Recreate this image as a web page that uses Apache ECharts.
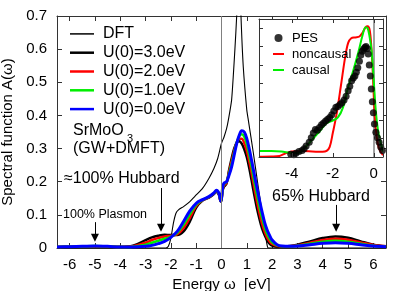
<!DOCTYPE html>
<html>
<head>
<meta charset="utf-8">
<script src="https://cdn.jsdelivr.net/npm/echarts@6/dist/echarts.min.js"></script>
<style>html,body{margin:0;padding:0;background:#fff;}#c{width:415px;height:291px;}</style>
</head>
<body>
<div id="c"></div>
<script>
// ---- main panel data ----
const energy = [-6.5,-6,-5.5,-5,-4.5,-4,-3.5,-3,-2.75,-2.5,-2.25,-2,-1.75,-1.5,-1.25,-1,-0.75,-0.5,-0.3,-0.2,-0.1,-0.03,0,0.05,0.1,0.2,0.3,0.4,0.5,0.6,0.7,0.8,0.9,1.0,1.1,1.2,1.3,1.4,1.5,1.6,1.7,1.8,1.9,2.0,2.2,2.4,2.7,3.0,3.5,4.0,4.5,5.0,5.5,6.0,6.5];
const u3 = [0.003,0.004,0.005,0.005,0.004,0.004,0.007,0.024,0.032,0.037,0.040,0.039,0.039,0.050,0.080,0.122,0.143,0.152,0.163,0.170,0.160,0.140,0.145,0.175,0.185,0.195,0.235,0.270,0.300,0.318,0.322,0.315,0.298,0.274,0.240,0.200,0.158,0.120,0.088,0.060,0.040,0.024,0.013,0.007,0.004,0.004,0.006,0.010,0.020,0.030,0.035,0.031,0.020,0.010,0.005];
const u2 = [0.003,0.004,0.005,0.005,0.004,0.003,0.005,0.016,0.024,0.030,0.035,0.037,0.042,0.060,0.091,0.127,0.144,0.153,0.164,0.172,0.162,0.141,0.147,0.178,0.189,0.197,0.230,0.262,0.293,0.318,0.330,0.330,0.316,0.293,0.260,0.222,0.180,0.140,0.105,0.074,0.050,0.032,0.020,0.012,0.006,0.005,0.005,0.008,0.016,0.024,0.028,0.025,0.017,0.009,0.005];
const u1 = [0.003,0.004,0.005,0.006,0.005,0.003,0.004,0.010,0.016,0.022,0.028,0.034,0.046,0.070,0.102,0.131,0.145,0.154,0.165,0.173,0.164,0.142,0.148,0.182,0.193,0.199,0.225,0.254,0.287,0.318,0.337,0.343,0.336,0.313,0.280,0.242,0.200,0.161,0.125,0.092,0.064,0.043,0.028,0.017,0.008,0.005,0.005,0.007,0.013,0.019,0.022,0.019,0.013,0.007,0.004];
const u0 = [0.003,0.004,0.005,0.006,0.005,0.003,0.003,0.005,0.008,0.013,0.020,0.032,0.050,0.080,0.112,0.135,0.146,0.155,0.166,0.174,0.165,0.142,0.150,0.185,0.196,0.200,0.220,0.245,0.280,0.315,0.340,0.354,0.350,0.330,0.298,0.260,0.220,0.182,0.145,0.110,0.078,0.055,0.038,0.024,0.010,0.006,0.005,0.006,0.010,0.014,0.016,0.014,0.010,0.006,0.004];
const dftEnergy = [-6.5,-2.2,-2.1,-2.0,-1.9,-1.8,-1.7,-1.5,-1.25,-1.0,-0.75,-0.5,-0.3,-0.15,0,0.1,0.2,0.27,0.4,0.53,0.6,0.69,0.77,0.86,1.0,1.06,1.26,1.45,1.65,1.79,1.85,6.5];
const dftValues = [0,0,0.005,0.03,0.075,0.105,0.115,0.125,0.14,0.16,0.18,0.21,0.24,0.27,0.316,0.335,0.36,0.386,0.447,0.6,0.7,0.9,0.7,0.547,0.416,0.386,0.286,0.185,0.084,0.014,0,0];
const mainXTicks = [-6,-5,-4,-3,-2,-1,0,1,2,3,4,5,6];

// ---- inset data ----
const pesEnergy = [-4.05,-3.9,-3.8,-3.65,-3.5,-3.4,-3.3,-3.15,-3.05,-2.95,-2.85,-2.75,-2.65,-2.55,-2.45,-2.35,-2.25,-2.15,-2.05,-1.95,-1.85,-1.75,-1.65,-1.55,-1.45,-1.35,-1.25,-1.17,-1.08,-1.0,-0.92,-0.85,-0.78,-0.7,-0.63,-0.56,-0.5,-0.44,-0.38,-0.32,-0.27,-0.22,-0.17,-0.12,-0.07,-0.02,0.03,0.1,0.18,0.26,0.34,0.42];
const pesValues = [0.15,0.12,0.2,0.3,0.35,0.45,0.6,0.8,1.05,1.3,1.5,1.45,1.6,1.75,1.85,1.95,2.05,2.15,2.3,2.5,2.7,2.75,2.85,2.95,3.1,3.3,3.6,3.85,4.15,4.3,4.4,4.6,4.85,5.2,5.55,5.75,5.85,5.95,6.0,5.9,5.6,5.0,4.4,3.7,3.0,2.4,1.8,1.35,1.05,0.8,0.55,0.35];
const noncausalEnergy = [-5.6,-5.0,-4.6,-4.3,-4.0,-3.5,-3.0,-2.5,-2.3,-2.15,-2.0,-1.82,-1.6,-1.4,-1.25,-1.1,-0.9,-0.7,-0.55,-0.4,-0.3,-0.2,-0.12,-0.05,0.03,0.1,0.2,0.3,0.45];
const noncausalValues = [0.02,0.03,0.06,0.2,0.3,0.32,0.3,0.28,0.33,0.55,1.3,2.3,3.9,5.4,6.2,6.45,6.5,6.55,6.75,7.05,7.1,6.9,6.0,4.6,2.6,1.5,0.7,0.35,0.1];
const causalEnergy = [-5.6,-5.0,-4.5,-4.0,-3.7,-3.37,-2.88,-2.6,-2.3,-2.0,-1.75,-1.5,-1.25,-1.0,-0.75,-0.55,-0.4,-0.3,-0.2,-0.1,0,0.1,0.2,0.3,0.45];
const causalValues = [0.33,0.33,0.3,0.22,0.22,0.5,1.1,1.45,1.85,1.98,2.15,2.7,3.8,4.7,5.7,6.6,7.05,7.0,6.5,5.7,4.1,2.5,1.5,0.95,0.3];
const insetXTicks = [-4,-2,0];

const FONT = 'Liberation Sans';
const zip = (xs, ys) => xs.map((x, i) => [x, ys[i]]);
const axisCol = '#333';

function xAx(grid, pos, min, max, ticks, showLabel, z) {
  return {
    type: 'value', gridIndex: grid, position: pos, min: min, max: max, z: z,
    axisLine: {show: true, onZero: false, lineStyle: {color: axisCol, width: 1}},
    axisTick: {show: true, inside: true, length: 5, customValues: ticks, lineStyle: {color: axisCol}},
    axisLabel: {show: showLabel, customValues: ticks, fontSize: 15, fontFamily: FONT, color: '#000', margin: 9},
    splitLine: {show: false}
  };
}
function yAx(grid, pos, min, max, interval, showLabel, z) {
  return {
    type: 'value', gridIndex: grid, position: pos, min: min, max: max, interval: interval, z: z,
    axisLine: {show: true, onZero: false, lineStyle: {color: axisCol, width: 1}},
    axisTick: {show: true, inside: true, length: 5, lineStyle: {color: axisCol}},
    axisLabel: {show: showLabel, fontSize: 15, fontFamily: FONT, color: '#000', margin: 10},
    splitLine: {show: false}
  };
}

const xAxes = [
  xAx(0, 'bottom', -6.5, 6.5, mainXTicks, true, 0),
  xAx(0, 'top', -6.5, 6.5, mainXTicks, false, 0),
  xAx(1, 'bottom', -5.6, 0.45, insetXTicks, true, 7),
  xAx(1, 'top', -5.6, 0.45, insetXTicks, false, 7)
];
xAxes[0].name = 'Energy ω  [eV]';
xAxes[0].nameLocation = 'middle';
xAxes[0].nameGap = 20;
xAxes[0].nameTextStyle = {fontSize: 15, fontFamily: FONT, color: '#000'};
xAxes[2].axisTick.length = 4;
xAxes[3].axisTick.length = 4;

const yAxes = [
  yAx(0, 'left', 0, 0.7, 0.1, true, 0),
  yAx(0, 'right', 0, 0.7, 0.1, false, 0),
  yAx(1, 'left', 0, 7.5, 1, false, 7),
  yAx(1, 'right', 0, 7.5, 1, false, 7)
];
yAxes[0].name = 'Spectral function A(ω)';
yAxes[0].nameLocation = 'middle';
yAxes[0].nameGap = 35;
yAxes[0].nameTextStyle = {fontSize: 15, fontFamily: FONT, color: '#000'};
yAxes[2].axisTick.length = 4;
yAxes[3].axisTick.length = 4;

function mainLine(name, data, color, width) {
  return {
    name: name, type: 'line', xAxisIndex: 0, yAxisIndex: 0, data: data,
    symbol: 'none', smooth: 0.35, z: 2,
    lineStyle: {color: color, width: width}, itemStyle: {color: color}
  };
}

const dftSeries = mainLine('DFT', zip(dftEnergy, dftValues), '#000', 1.1);
dftSeries.smooth = 0.2;
dftSeries.markLine = {
  silent: true, symbol: ['none', 'triangle'], symbolSize: 8,
  label: {show: false},
  lineStyle: {color: '#000', width: 1, type: 'solid'},
  data: [
    [{coord: [-2.39, 0.181]}, {coord: [-2.39, 0.061]}],
    [{coord: [-5.0, 0.078]}, {coord: [-5.0, 0.031]}],
    [{coord: [4.53, 0.13]}, {coord: [4.53, 0.061]}]
  ]
};
const u3Series = mainLine('U(0)=3.0eV', zip(energy, u3), '#000', 2.5);
u3Series.markLine = {
  silent: true, symbol: ['none', 'none'], label: {show: false},
  lineStyle: {color: '#808080', width: 1, type: 'solid'},
  data: [{xAxis: 0}]
};

const insetLine = (name, data, color) => ({
  name: name, type: 'line', xAxisIndex: 2, yAxisIndex: 2, data: data,
  symbol: 'none', smooth: 0.35, z: 6,
  lineStyle: {color: color, width: 2}, itemStyle: {color: color}
});
const causalSeries = insetLine('causal', zip(causalEnergy, causalValues), '#00ee00');
const noncausalSeries = insetLine('noncausal', zip(noncausalEnergy, noncausalValues), '#ff0000');
noncausalSeries.markLine = {
  silent: true, symbol: ['none', 'none'], label: {show: false},
  lineStyle: {color: '#808080', width: 1.5, type: 'solid'},
  data: [{xAxis: 0}]
};

const thinBar = 'path://M0,0L48,0L48,3L0,3Z';
const thickBar = 'path://M0,0L48,0L48,5L0,5Z';
const insetBar = 'path://M0,0L11,0L11,2L0,2Z';

const chart = echarts.init(document.getElementById('c'), null, {renderer: 'canvas'});
chart.setOption({
  animation: false,
  backgroundColor: '#fff',
  textStyle: {fontFamily: FONT},
  grid: [
    {left: 57, right: 29, top: 16, bottom: 43, z: 0, containLabel: false, outerBoundsMode: 'none'},
    {left: 259, top: 19, width: 124, height: 138, show: true, backgroundColor: '#fff', borderWidth: 0, z: 5, containLabel: false, outerBoundsMode: 'none'}
  ],
  xAxis: xAxes,
  yAxis: yAxes,
  legend: [
    {
      orient: 'vertical', left: 65, top: 19.5, itemWidth: 24, itemHeight: 14, itemGap: 0,
      selectedMode: false, z: 10, symbolKeepAspect: true,
      data: [
        {name: 'DFT', icon: thinBar},
        {name: 'U(0)=3.0eV', icon: thickBar},
        {name: 'U(0)=2.0eV', icon: thickBar},
        {name: 'U(0)=1.0eV', icon: thickBar},
        {name: 'U(0)=0.0eV', icon: thickBar}
      ],
      textStyle: {fontSize: 16, fontFamily: FONT, color: '#000', lineHeight: 18.8, padding: [0, 0, 0, 4]}
    },
    {
      orient: 'vertical', left: 268, top: 25, itemWidth: 11, itemHeight: 8, itemGap: 0,
      selectedMode: false, z: 10, symbolKeepAspect: true,
      data: [
        {name: 'PES', icon: 'circle'},
        {name: 'noncausal', icon: insetBar},
        {name: 'causal', icon: insetBar}
      ],
      textStyle: {fontSize: 13, fontFamily: FONT, color: '#000', lineHeight: 16, padding: [0, 0, 0, 3]}
    }
  ],
  series: [
    dftSeries,
    u3Series,
    mainLine('U(0)=2.0eV', zip(energy, u2), '#ff0000', 2.5),
    mainLine('U(0)=1.0eV', zip(energy, u1), '#00ee00', 2.5),
    mainLine('U(0)=0.0eV', zip(energy, u0), '#0000ff', 3),
    {
      name: 'PES', type: 'scatter', xAxisIndex: 2, yAxisIndex: 2,
      data: zip(pesEnergy, pesValues), symbol: 'circle', symbolSize: 7, z: 6,
      itemStyle: {color: '#000'}
    },
    noncausalSeries,
    causalSeries
  ],
  graphic: [
    {type: 'text', left: 73, top: 123, z: 20, style: {text: 'SrMoO', fontSize: 16, fontFamily: FONT, fill: '#000'}},
    {type: 'text', left: 127, top: 133, z: 20, style: {text: '3', fontSize: 11, fontFamily: FONT, fill: '#000'}},
    {type: 'text', left: 73, top: 141, z: 20, style: {text: '(GW+DMFT)', fontSize: 16, fontFamily: FONT, fill: '#000'}},
    {type: 'text', left: 64, top: 171, z: 20, style: {text: '≈100% Hubbard', fontSize: 16, fontFamily: FONT, fill: '#000'}},
    {type: 'text', left: 63, top: 208, z: 20, style: {text: '100% Plasmon', fontSize: 12.5, fontFamily: FONT, fill: '#000'}},
    {type: 'text', left: 272, top: 189, z: 20, style: {text: '65% Hubbard', fontSize: 16, fontFamily: FONT, fill: '#000'}}
  ]
});
</script>
</body>
</html>
